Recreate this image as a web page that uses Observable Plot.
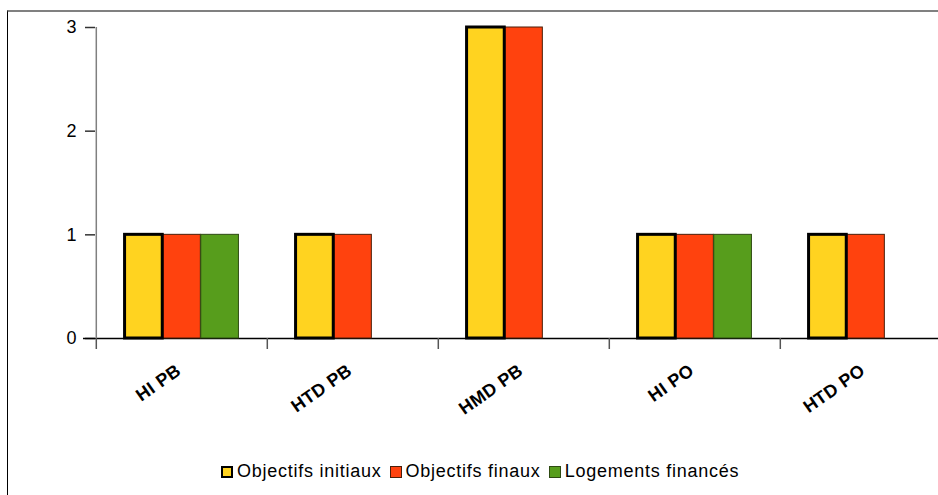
<!DOCTYPE html>
<html>
<head>
<meta charset="utf-8">
<script src="https://cdn.jsdelivr.net/npm/d3@7"></script>
<script src="https://cdn.jsdelivr.net/npm/@observablehq/plot@0.6"></script>
<style>
  html, body { margin: 0; padding: 0; background: #fff; }
  #wrap { position: relative; width: 938px; height: 495px; overflow: hidden; font-family: "Liberation Sans", Arial, sans-serif; }
  #chart { position: absolute; left: 0; top: 0; }
  #border { position: absolute; left: 7px; top: 10px; width: 940px; height: 490px; border-left: 1px solid #000; border-top: 2px solid #808080; pointer-events: none; }
  #legend { position: absolute; left: 221px; top: 461px; display: flex; align-items: center; font-size: 18px; color: #000; white-space: nowrap; }
  .item { display: flex; align-items: center; margin-right: 8px; }
  .sw { width: 12px; height: 12px; box-sizing: border-box; margin-right: 4px; }
  #chart g[aria-label="y-axis tick label"] text { font-size: 18px; }
  #chart g[aria-label="x-axis tick label"] text { font-size: 18px; font-weight: bold; letter-spacing: 0.4px; }
</style>
</head>
<body>
<div id="wrap">
  <div id="chart"></div>
  <div id="legend"></div>
  <div id="border"></div>
</div>
<script>
const categories = ["HI PB", "HTD PB", "HMD PB", "HI PO", "HTD PO"];
const objectifsInitiaux = [1, 1, 3, 1, 1];
const objectifsFinaux = [1, 1, 3, 1, 1];
const logementsFinances = [1, 0, 0, 1, 0];
const seriesNames = ["Objectifs initiaux", "Objectifs finaux", "Logements financés"];
const yTicks = [0, 1, 2, 3];

const seriesValues = [objectifsInitiaux, objectifsFinaux, logementsFinances];
const colors = ["#ffd320", "#ff420e", "#579d1c"];
const strokes = ["#000000", "#4a1f0a", "#2e4a12"];
const strokeWidths = [3, 1, 1];

const rows = [];
seriesNames.forEach((s, si) => {
  categories.forEach((c, ci) => {
    rows.push({category: c, series: s, si, value: seriesValues[si][ci]});
  });
});

const W = 938, H = 440;
const mL = 83, x0 = 95, bw = 171.4;
const xRange = [x0, x0 + bw * categories.length];
const slot = bw / 4.5;
const offset = slot * 0.75;

function barsFor(si) {
  return Plot.barY(rows.filter(d => d.si === si && d.value > 0), {
    x: "category",
    y: "value",
    fill: colors[si],
    stroke: strokes[si],
    strokeWidth: strokeWidths[si],
    insetLeft: offset + slot * si,
    insetRight: bw - offset - slot * (si + 1)
  });
}

const plot = Plot.plot({
  width: W,
  height: H,
  marginLeft: mL,
  marginRight: 0,
  marginTop: 27,
  marginBottom: H - 338,
  style: {fontFamily: "'Liberation Sans', Arial, sans-serif", fontSize: "18px", color: "#000", background: "transparent"},
  x: {type: "band", domain: categories, range: xRange, padding: 0},
  y: {domain: [0, 3]},
  marks: [
    Plot.ruleY(yTicks, {insetLeft: 2, insetRight: W - x0, stroke: "#333", strokeWidth: 1.5}),
    Plot.ruleY([0], {stroke: "#000", strokeWidth: 1.5}),
    Plot.ruleX([categories[0]], {y1: 0, y2: 3, dx: -bw / 2, stroke: "#808080", strokeWidth: 1.5}),
    Plot.ruleX(categories, {y1: 0, y2: 0, insetBottom: -11, dx: -bw / 2, stroke: "#555", strokeWidth: 1.5}),
    Plot.axisY({ticks: yTicks, tickSize: 0, tickPadding: 19, dx: x0 - mL, tickFormat: d3.format("d"), label: null}),
    Plot.axisX({tickSize: 0, tickRotate: -35, tickPadding: 30, dx: -3, label: null}),
    barsFor(1),
    barsFor(2),
    barsFor(0)
  ]
});
document.getElementById("chart").appendChild(plot);

const legend = document.getElementById("legend");
seriesNames.forEach((s, si) => {
  const item = document.createElement("div");
  item.className = "item";
  const sw = document.createElement("div");
  sw.className = "sw";
  sw.style.background = colors[si];
  sw.style.border = (si === 0 ? 2.5 : 1) + "px solid " + strokes[si];
  const t = document.createElement("span");
  t.textContent = s;
  t.style.letterSpacing = "0.75px";
  item.appendChild(sw);
  item.appendChild(t);
  legend.appendChild(item);
});
</script>
</body>
</html>
